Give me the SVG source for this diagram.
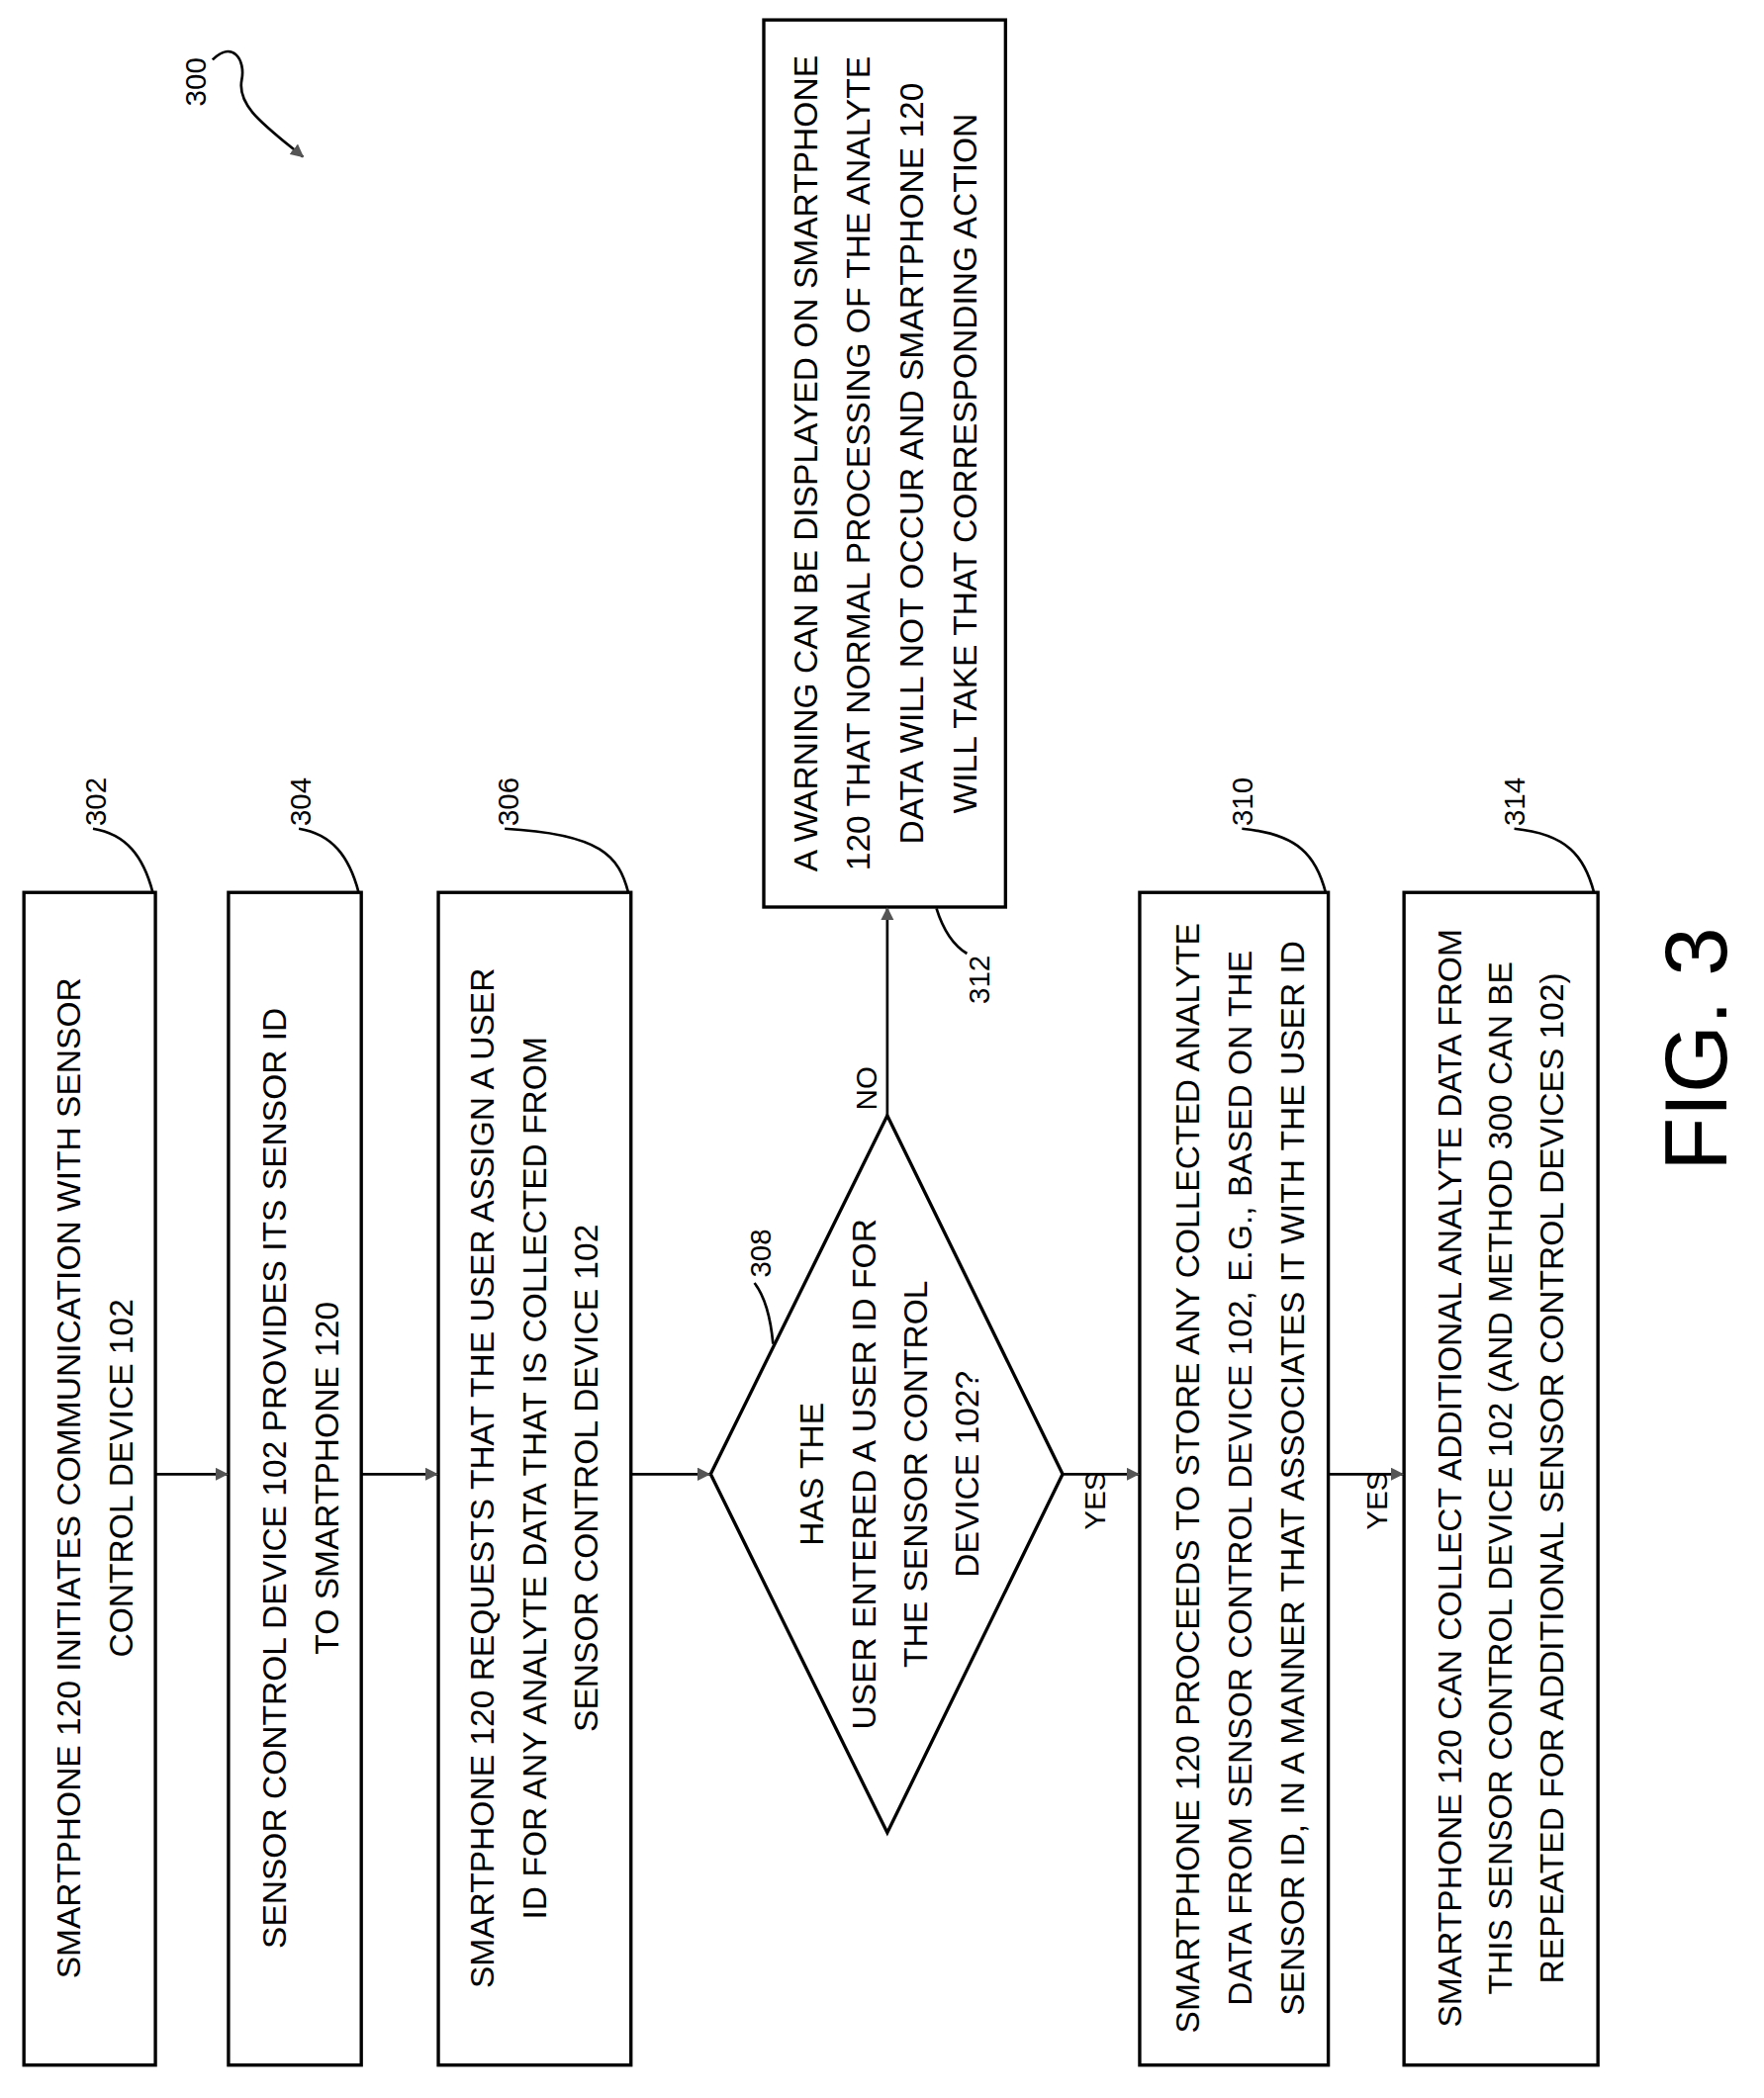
<svg xmlns="http://www.w3.org/2000/svg" width="1783" height="2121" viewBox="0 0 1783 2121">
<style>
.b{fill:#fff;stroke:#000;stroke-width:2.5}
.t{font-family:"Liberation Sans",Arial,sans-serif;font-size:25px;text-anchor:middle;fill:#000}
.l{font-family:"Liberation Sans",Arial,sans-serif;font-size:22px;text-anchor:start;fill:#000}
.c{fill:none;stroke:#000;stroke-width:2}
</style>
<defs><marker id="a" markerWidth="10" markerHeight="10" refX="9" refY="5" orient="auto" markerUnits="userSpaceOnUse" viewBox="0 0 10 10"><path d="M0,0L10,5L0,10z" fill="#555"/></marker></defs>
<rect width="1783" height="2121" fill="#fff"/>
<g transform="scale(1.3426)">
<g id="n302"><rect class="b" x="18" y="672" width="99" height="883"/>
<text class="t" transform="translate(60,1113) rotate(-90)">SMARTPHONE 120 INITIATES COMMUNICATION WITH SENSOR</text>
<text class="t" transform="translate(100,1113) rotate(-90)">CONTROL DEVICE 102</text></g>
<g id="n304"><rect class="b" x="172" y="672" width="100" height="883"/>
<text class="t" transform="translate(215,1113) rotate(-90)">SENSOR CONTROL DEVICE 102 PROVIDES ITS SENSOR ID</text>
<text class="t" transform="translate(255,1113) rotate(-90)">TO SMARTPHONE 120</text></g>
<g id="n306"><rect class="b" x="330" y="672" width="145" height="883"/>
<text class="t" transform="translate(372,1113) rotate(-90)">SMARTPHONE 120 REQUESTS THAT THE USER ASSIGN A USER</text>
<text class="t" transform="translate(411,1113) rotate(-90)">ID FOR ANY ANALYTE DATA THAT IS COLLECTED FROM</text>
<text class="t" transform="translate(450,1113) rotate(-90)">SENSOR CONTROL DEVICE 102</text></g>
<g id="n308"><path class="b" d="M535,1110L668,840L800,1110L668,1380z"/>
<text class="t" transform="translate(620,1110) rotate(-90)">HAS THE</text>
<text class="t" transform="translate(659,1110) rotate(-90)">USER ENTERED A USER ID FOR</text>
<text class="t" transform="translate(698,1110) rotate(-90)">THE SENSOR CONTROL</text>
<text class="t" transform="translate(737,1110) rotate(-90)">DEVICE 102?</text></g>
<g id="n312"><rect class="b" x="575" y="15" width="182" height="668"/>
<text class="t" transform="translate(615,349) rotate(-90)">A WARNING CAN BE DISPLAYED ON SMARTPHONE</text>
<text class="t" transform="translate(655,349) rotate(-90)">120 THAT NORMAL PROCESSING OF THE ANALYTE</text>
<text class="t" transform="translate(695,349) rotate(-90)">DATA WILL NOT OCCUR AND SMARTPHONE 120</text>
<text class="t" transform="translate(735,349) rotate(-90)">WILL TAKE THAT CORRESPONDING ACTION</text></g>
<g id="n310"><rect class="b" x="858" y="672" width="142" height="883"/>
<text class="t" transform="translate(903,1113) rotate(-90)">SMARTPHONE 120 PROCEEDS TO STORE ANY COLLECTED ANALYTE</text>
<text class="t" transform="translate(942,1113) rotate(-90)">DATA FROM SENSOR CONTROL DEVICE 102, E.G.,  BASED ON THE</text>
<text class="t" transform="translate(982,1113) rotate(-90)">SENSOR ID, IN A MANNER THAT ASSOCIATES IT WITH THE USER ID</text></g>
<g id="n314"><rect class="b" x="1057" y="672" width="146" height="883"/>
<text class="t" transform="translate(1100,1113) rotate(-90)">SMARTPHONE 120 CAN COLLECT ADDITIONAL ANALYTE DATA FROM</text>
<text class="t" transform="translate(1138,1113) rotate(-90)">THIS SENSOR CONTROL DEVICE 102 (AND METHOD 300 CAN BE</text>
<text class="t" transform="translate(1177,1113) rotate(-90)">REPEATED FOR ADDITIONAL SENSOR CONTROL DEVICES 102)</text></g>
<g id="connectors">
<path class="c" marker-end="url(#a)" d="M117,1110H171"/>
<path class="c" marker-end="url(#a)" d="M272,1110H329"/>
<path class="c" marker-end="url(#a)" d="M475,1110H534"/>
<path class="c" marker-end="url(#a)" d="M800,1110H857"/>
<path class="c" marker-end="url(#a)" d="M1000,1110H1056"/>
<path class="c" marker-end="url(#a)" d="M668,840V684"/>
<text class="l" transform="translate(660,836) rotate(-90)">NO</text>
<text class="l" transform="translate(832,1152) rotate(-90)">YES</text>
<text class="l" transform="translate(1044,1152) rotate(-90)">YES</text>
</g>
<g id="labels">
<path class="c" d="M115,672C108,645 95,628 70,624"/><text class="l" transform="translate(80,622) rotate(-90)">302</text>
<path class="c" d="M270,672C263,645 250,628 225,624"/><text class="l" transform="translate(234,622) rotate(-90)">304</text>
<path class="c" d="M473,672C466,645 453,628 380,624"/><text class="l" transform="translate(390,622) rotate(-90)">306</text>
<path class="c" d="M998,672C991,645 978,628 935,624"/><text class="l" transform="translate(943,622) rotate(-90)">310</text>
<path class="c" d="M1200,672C1193,645 1180,628 1140,624"/><text class="l" transform="translate(1148,622) rotate(-90)">314</text>
<path class="c" d="M582,1012C580,990 575,975 568,966"/><text class="l" transform="translate(580,962) rotate(-90)">308</text>
<path class="c" d="M705,684C710,700 718,712 728,718"/><text class="l" transform="translate(745,756) rotate(-90)">312</text>
<text class="l" transform="translate(155,80) rotate(-90)">300</text>
<path class="c" marker-end="url(#a)" d="M160,45C175,30 185,45 182,60C178,80 200,95 228,118"/>
<text class="t" transform="translate(1300,790) rotate(-90)" style="font-size:66px">FIG. 3</text>
</g>
</g>
</svg>
